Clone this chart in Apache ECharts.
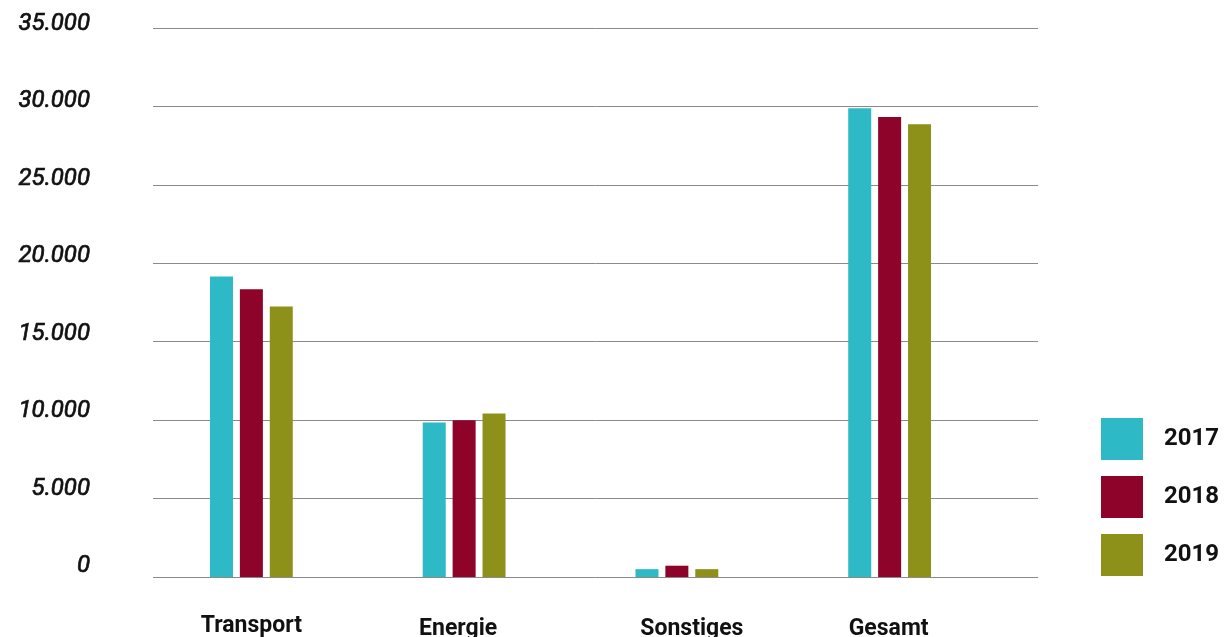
<!DOCTYPE html>
<html>
<head>
<meta charset="utf-8">
<script src="https://cdn.jsdelivr.net/npm/echarts@6/dist/echarts.min.js"></script>
<style>
  html, body { margin: 0; padding: 0; background: #fff; }
  #chart { width: 1224px; height: 637px; }
</style>
</head>
<body>
<div id="chart"></div>
<script>
// Emissions by sector, three years
const categories = ['Transport', 'Energie', 'Sonstiges', 'Gesamt'];
const years = ['2017', '2018', '2019'];
const values2017 = [19150, 9850, 500, 29880];
const values2018 = [18350, 10000, 720, 29320];
const values2019 = [17250, 10430, 500, 28870];
const yMin = 0;
const yMax = 35000;
const yStep = 5000;

const colors = ['#2EB9C6', '#8E0329', '#8D911A'];
const seriesValues = [values2017, values2018, values2019];

// German thousands separator: 35000 -> "35.000"
function fmtDe(v) {
  return String(v).replace(/\B(?=(\d{3})+(?!\d))/g, '.');
}

const labelKeys = ['t', 'e', 's', 'g'];
const labelFont = { fontFamily: 'Roboto', fontWeight: 'bold', fontSize: 23, color: '#111' };

const chart = echarts.init(document.getElementById('chart'), null, { renderer: 'canvas' });

chart.setOption({
  animation: false,
  backgroundColor: '#ffffff',
  color: colors,
  legend: {
    orient: 'vertical',
    left: 1096,
    top: 413,
    itemWidth: 42,
    itemHeight: 42,
    itemGap: 16,
    icon: 'rect',
    data: years,
    textStyle: {
      fontFamily: 'Roboto',
      fontWeight: 'bold',
      fontSize: 24,
      color: '#111',
      padding: [0, 0, 0, 16]
    }
  },
  grid: [
    // gridlines
    { left: 153, right: 186, top: 28, bottom: 60, outerBoundsMode: 'none' },
    // bars and category labels
    { left: 145, right: 228, top: 28, bottom: 60, outerBoundsMode: 'none' },
    // value labels
    { left: 153, right: 186, top: 24, bottom: 71, outerBoundsMode: 'none' }
  ],
  xAxis: [
    { gridIndex: 0, type: 'category', data: categories, show: false },
    {
      gridIndex: 1,
      type: 'category',
      data: categories,
      axisLine: { show: false },
      axisTick: { show: false },
      axisLabel: {
        margin: 38,
        formatter: function (v, i) { return '{' + labelKeys[i] + '|' + v + '}'; },
        rich: {
          t: Object.assign({ padding: [0, 0, 0, 0] }, labelFont),
          e: Object.assign({ padding: [3, 12, 0, 0] }, labelFont),
          s: Object.assign({ padding: [3, 0, 0, 30] }, labelFont),
          g: Object.assign({ padding: [3, 2, 0, 0] }, labelFont)
        }
      }
    },
    { gridIndex: 2, type: 'category', data: categories, show: false }
  ],
  yAxis: [
    {
      gridIndex: 0,
      type: 'value',
      min: yMin,
      max: yMax,
      interval: yStep,
      axisLine: { show: false },
      axisTick: { show: false },
      axisLabel: { show: false },
      splitLine: { show: true, lineStyle: { color: '#8a8a8a', width: 1 } }
    },
    {
      gridIndex: 1,
      type: 'value',
      min: yMin,
      max: yMax,
      interval: yStep,
      show: false,
      splitLine: { show: false }
    },
    {
      gridIndex: 2,
      type: 'value',
      min: yMin,
      max: yMax,
      interval: yStep,
      axisLine: { show: false },
      axisTick: { show: false },
      splitLine: { show: false },
      axisLabel: {
        margin: 63,
        formatter: fmtDe,
        fontFamily: 'Roboto',
        fontStyle: 'italic',
        fontSize: 24,
        color: '#111',
        textBorderColor: '#111',
        textBorderWidth: 0.7
      }
    }
  ],
  series: years.map(function (y, i) {
    return {
      name: y,
      type: 'bar',
      xAxisIndex: 1,
      yAxisIndex: 1,
      barWidth: 23,
      barGap: '30%',
      data: seriesValues[i],
      itemStyle: { color: colors[i] }
    };
  })
});
</script>
</body>
</html>
